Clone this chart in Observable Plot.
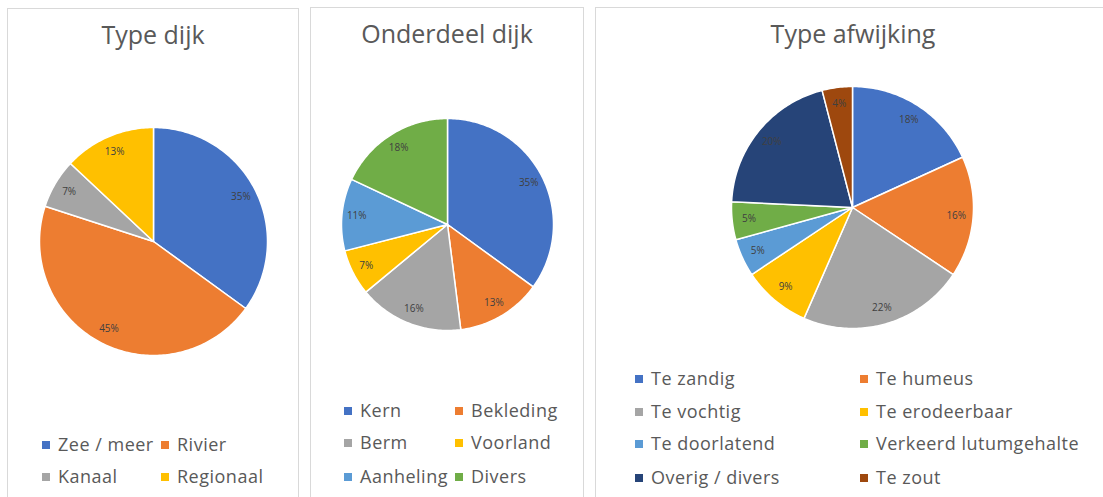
<!DOCTYPE html>
<html>
<head>
<meta charset="utf-8">
<script src="https://cdn.jsdelivr.net/npm/d3@7"></script>
<script src="https://cdn.jsdelivr.net/npm/@observablehq/plot@0.6"></script>
<style>
  html, body { margin: 0; padding: 0; background: #fff; overflow: hidden; }
  body { width: 1103px; height: 497px; position: relative; font-family: "Open Sans", Lato, sans-serif; }
  .panel { position: absolute; border: 1px solid #d9d9d9; box-sizing: border-box; background: #fff; }
  .title { position: absolute; font-size: 25px; color: #595959; white-space: nowrap; transform: translateX(-50%); line-height: 1; }
  .leg { position: absolute; font-size: 18px; letter-spacing: 0.5px; color: #595959; white-space: nowrap; line-height: 1; }
  .leg .sw { position: absolute; width: 8px; height: 8px; left: 0; top: -4px; }
  .leg .lt { position: absolute; left: 16px; top: -10px; }
  .plotbox { position: absolute; }
</style>
</head>
<body>
<script>
// ---------- data ----------
const dijkTitle = "Type dijk";
const dijkCategories = ["Zee / meer", "Rivier", "Kanaal", "Regionaal"];
const dijkValues = [35, 45, 7, 13];
const dijkColors = ["#4472C4", "#ED7D31", "#A5A5A5", "#FFC000"];

const onderdeelTitle = "Onderdeel dijk";
const onderdeelCategories = ["Kern", "Bekleding", "Berm", "Voorland", "Aanheling", "Divers"];
const onderdeelValues = [35, 13, 16, 7, 11, 18];
const onderdeelColors = ["#4472C4", "#ED7D31", "#A5A5A5", "#FFC000", "#5B9BD5", "#70AD47"];

const afwijkingTitle = "Type afwijking";
const afwijkingCategories = ["Te zandig", "Te humeus", "Te vochtig", "Te erodeerbaar", "Te doorlatend", "Verkeerd lutumgehalte", "Overig / divers", "Te zout"];
const afwijkingValues = [18, 16, 22, 9, 5, 5, 20, 4];
const afwijkingColors = ["#4472C4", "#ED7D31", "#A5A5A5", "#FFC000", "#5B9BD5", "#70AD47", "#264478", "#9E480E"];

// ---------- layout ----------
const panels = [
  {title: dijkTitle, cats: dijkCategories, vals: dijkValues, colors: dijkColors,
   box: [7, 8, 292, 520], titleX: 153, titleY: 22,
   cx: 153, cy: 241, r: 114,
   legCols: [42, 161], legRows: [445, 477]},
  {title: onderdeelTitle, cats: onderdeelCategories, vals: onderdeelValues, colors: onderdeelColors,
   box: [310, 7, 274, 520], titleX: 447, titleY: 21,
   cx: 447, cy: 224, r: 106,
   legCols: [344, 455], legRows: [411, 443, 477]},
  {title: afwijkingTitle, cats: afwijkingCategories, vals: afwijkingValues, colors: afwijkingColors,
   box: [595, 7, 540, 520], titleX: 853, titleY: 21,
   cx: 852, cy: 207, r: 121,
   legCols: [635, 860], legRows: [379, 412, 444, 478]}
];

const body = document.body;

for (const p of panels) {
  const panel = document.createElement("div");
  panel.className = "panel";
  Object.assign(panel.style, {left: p.box[0] + "px", top: p.box[1] + "px", width: p.box[2] + "px", height: p.box[3] + "px"});
  body.appendChild(panel);

  const t = document.createElement("div");
  t.className = "title";
  t.textContent = p.title;
  Object.assign(t.style, {left: p.titleX + "px", top: p.titleY + "px"});
  body.appendChild(t);

  // pie geometry from data
  const arcs = d3.pie().sort(null).value(d => d.v)(p.cats.map((c, i) => ({c, v: p.vals[i]})));
  const total = d3.sum(p.vals);
  const pts = [];
  const labels = [];
  for (const a of arcs) {
    const n = Math.max(2, Math.ceil((a.endAngle - a.startAngle) / (Math.PI / 180)));
    pts.push({cat: a.data.c, x: 0, y: 0});
    for (let k = 0; k <= n; k++) {
      const ang = a.startAngle + (a.endAngle - a.startAngle) * k / n;
      pts.push({cat: a.data.c, x: p.r * Math.sin(ang), y: -p.r * Math.cos(ang)});
    }
    pts.push({cat: a.data.c, x: 0, y: 0});
    const mid = (a.startAngle + a.endAngle) / 2;
    labels.push({x: 0.86 * p.r * Math.sin(mid), y: -0.86 * p.r * Math.cos(mid), text: Math.round(a.data.v / total * 100) + "%"});
  }

  const W = 2 * p.r + 20, H = 2 * p.r + 20;
  const left = p.cx - W / 2, top = p.cy - H / 2;
  const chart = Plot.plot({
    width: W, height: H,
    margin: 0,
    x: {domain: [-W / 2, W / 2], range: [0, W], axis: null},
    y: {domain: [-H / 2, H / 2], range: [0, H], axis: null},
    color: {domain: p.cats, range: p.colors},
    style: {background: "transparent", overflow: "visible"},
    marks: [
      Plot.line(pts, {x: "x", y: "y", z: "cat", fill: "cat", stroke: "white", strokeWidth: 1.5, strokeLinejoin: "round", curve: "linear"}),
      Plot.text(labels, {x: "x", y: "y", text: "text", fontSize: 10, fill: "#404040", fontFamily: "'Open Sans', Lato, sans-serif"})
    ]
  });
  const wrap = document.createElement("div");
  wrap.className = "plotbox";
  Object.assign(wrap.style, {left: left + "px", top: top + "px"});
  wrap.appendChild(chart);
  body.appendChild(wrap);

  // legend
  p.cats.forEach((c, i) => {
    const col = i % 2, row = Math.floor(i / 2);
    const item = document.createElement("div");
    item.className = "leg";
    Object.assign(item.style, {left: p.legCols[col] + "px", top: p.legRows[row] + "px"});
    const sw = document.createElement("div");
    sw.className = "sw";
    sw.style.background = p.colors[i];
    const lt = document.createElement("div");
    lt.className = "lt";
    lt.textContent = c;
    item.appendChild(sw);
    item.appendChild(lt);
    body.appendChild(item);
  });
}
</script>
</body>
</html>
